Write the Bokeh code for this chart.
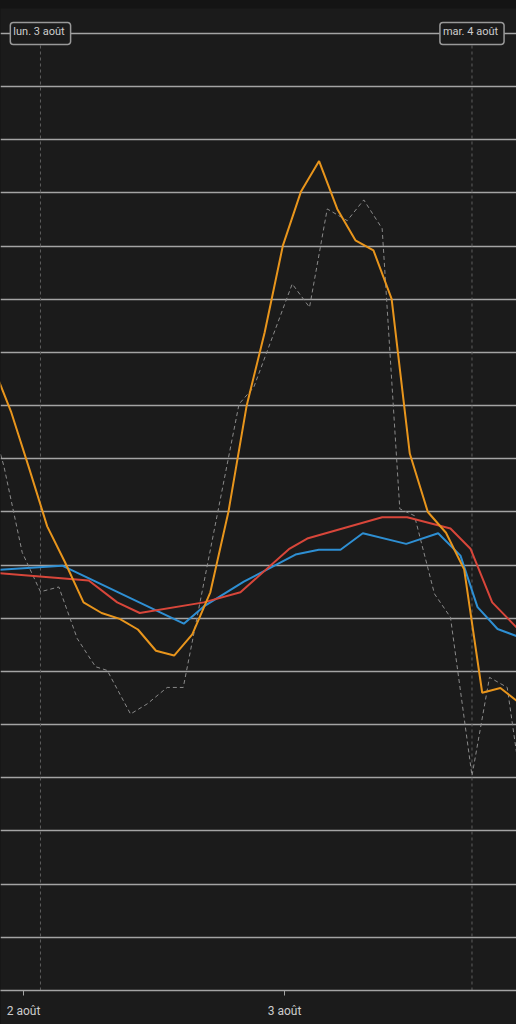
from bokeh.plotting import figure
from bokeh.models import Range1d, FixedTicker, Label, GlobalInlineStyleSheet
from bokeh.embed import file_html
from bokeh.resources import INLINE

# ---- data (x: hours since 2 août 00:00, y: value) ----
orange_x = [-2.82, -1.15, 0.52, 2.18, 3.85, 5.52, 7.18, 8.85, 10.52, 12.18, 13.85, 15.52,
            17.18, 18.85, 20.52, 22.18, 23.85, 25.52, 27.18, 28.85, 30.52, 32.18, 33.85,
            35.52, 37.18, 38.85, 40.52, 42.18, 43.85, 45.52]
orange_y = [11.75, 10.89, 9.82, 8.73, 8.04, 7.30, 7.10, 6.99, 6.79, 6.39, 6.30, 6.70,
            7.49, 9.01, 11.00, 12.38, 14.01, 15.03, 15.60, 14.70, 14.11, 13.92, 13.01,
            10.10, 9.00, 8.61, 7.92, 5.60, 5.69, 5.42]

gray_x = [-3.49, -1.80, -0.12, 1.56, 3.25, 4.94, 6.62, 7.70, 9.84, 11.37, 13.21, 14.69,
          19.82, 21.18, 24.71, 26.30, 27.93, 29.77, 31.29, 32.98, 34.60, 35.95, 37.79,
          39.26, 41.24, 42.85, 44.48, 46.16]
gray_y = [11.10, 9.86, 8.24, 7.50, 7.59, 6.62, 6.09, 6.02, 5.20, 5.39, 5.70, 5.70,
          11.03, 11.35, 13.29, 12.85, 14.70, 14.48, 14.87, 14.33, 9.06, 8.93, 7.46,
          7.02, 4.04, 5.89, 5.70, 3.29]

red_x = [-3.95, 6.00, 8.62, 10.69, 16.58, 19.95, 24.40, 26.09, 32.98, 35.28, 39.26,
         41.10, 43.10, 46.62]
red_y = [7.88, 7.71, 7.30, 7.10, 7.30, 7.49, 8.30, 8.50, 8.90, 8.90, 8.69, 8.31,
         7.30, 6.56]

blue_x = [-3.95, 3.56, 14.74, 16.55, 20.26, 25.01, 27.15, 29.15, 31.20, 35.19, 38.13,
          40.18, 41.75, 43.59, 47.08]
blue_y = [7.89, 7.99, 6.90, 7.22, 7.69, 8.20, 8.29, 8.29, 8.60, 8.40, 8.60, 8.18,
          7.21, 6.80, 6.53]

tick_hours = [0, 24]
tick_labels = ["2 août", "3 août"]
marker_hours = [1.56, 41.24]
marker_labels = ["lun. 3 août", "mar. 4 août"]
grid_values = list(range(0, 19))

BG = "#1b1b1b"
GRID = "#a4a4a4"
FONT = "Roboto"

p = figure(width=516, height=1016, output_backend="svg", toolbar_location=None,
           x_range=Range1d(-2.115, 45.333), y_range=Range1d(0, 18.47),
           min_border_left=0, min_border_right=0, min_border_top=0, min_border_bottom=34,
           background_fill_color=BG, border_fill_color=BG, outline_line_color=None)

p.stylesheets = [GlobalInlineStyleSheet(css="html, body { background: #141414; margin: 0; padding: 0; } body { padding-top: 8px; }")]

p.yaxis.visible = False
p.xgrid.visible = False
p.ygrid.ticker = FixedTicker(ticks=grid_values)
p.ygrid.grid_line_color = GRID
p.ygrid.grid_line_width = 1.4

p.xaxis.ticker = FixedTicker(ticks=tick_hours)
p.xaxis.major_label_overrides = {t: l for t, l in zip(tick_hours, tick_labels)}
p.xaxis.axis_line_color = GRID
p.xaxis.axis_line_width = 1.4
p.xaxis.major_tick_line_color = GRID
p.xaxis.major_tick_out = 5
p.xaxis.major_tick_in = 0
p.xaxis.minor_tick_line_color = None
p.xaxis.major_label_text_color = "#cccccc"
p.xaxis.major_label_text_font = FONT
p.xaxis.major_label_text_font_size = "12px"
p.xaxis.major_label_standoff = 8

# vertical day markers
p.segment(x0=marker_hours, y0=[0] * len(marker_hours), x1=marker_hours,
          y1=[18] * len(marker_hours), line_color="#5e5e5e", line_width=1, line_dash="3 3")

p.line(gray_x, gray_y, line_color="#8a8a8a", line_width=1, line_dash="4 3")
p.line(blue_x, blue_y, line_color="#2e8fd3", line_width=2)
p.line(red_x, red_y, line_color="#d8463a", line_width=2)
p.line(orange_x, orange_y, line_color="#e8951c", line_width=2)

for mx, ml in zip(marker_hours, marker_labels):
    p.add_layout(Label(x=mx, y=18, text=ml, text_align="center", text_baseline="middle",
                       text_font=FONT, text_font_size="11px", text_color="#cccccc",
                       border_line_color="#999999", border_line_width=1.5,
                       background_fill_color=BG, padding=(3, 6, 3, 6), border_radius=3))

open("out.html", "w").write(file_html(p, INLINE))
